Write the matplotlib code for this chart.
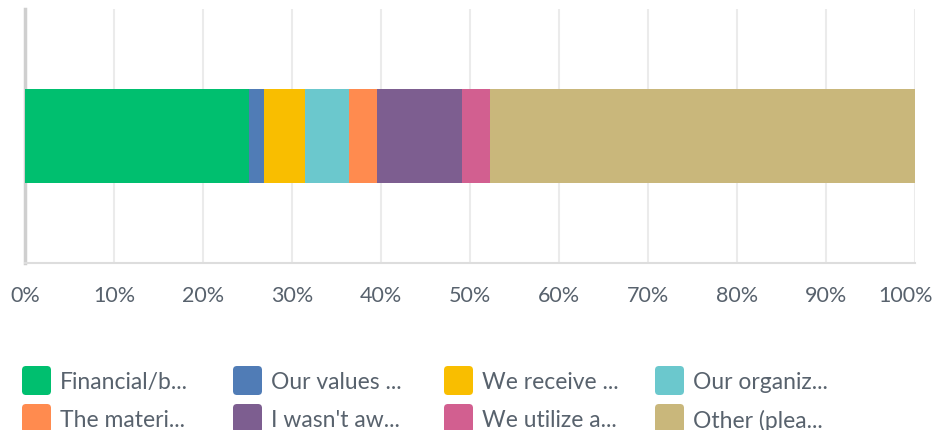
import numpy as np
import matplotlib.pyplot as plt
from matplotlib.patches import FancyBboxPatch
from matplotlib.transforms import ScaledTranslation

# Share of responses (%) for each answer
labels = ['Financial/b...', 'Our values ...', 'We receive ...', 'Our organiz...',
          'The materi...', "I wasn't aw...", 'We utilize a...', 'Other (plea...']
values = [25.2, 1.7, 4.6, 4.9, 3.2, 9.5, 3.1, 47.8]
colors = ['#00bf6f', '#507cb6', '#f9be00', '#6bc8cd',
          '#ff8b4f', '#7d5e90', '#d25f90', '#c9b77b']
ticks = np.arange(0, 101, 10)
tick_labels = [f'{t}%' for t in ticks]

text_color = '#58626d'
plt.rcParams['font.family'] = ['Lato', 'DejaVu Sans']

W, H = 935, 431
fig = plt.figure(figsize=(W / 100, H / 100), dpi=100)

# main bar axes (pixel layout: x 25..915, y 10..264)
ax = fig.add_axes([25 / W, 1 - 264 / H, 890 / W, 254 / H])
left = np.concatenate([[0], np.cumsum(values)[:-1]])
ax.barh([0], values, left=left, color=colors, height=0.74, zorder=3)

ax.set_xlim(0, 100)
ax.set_ylim(-1, 1)
ax.set_xticks(ticks)
ax.set_xticklabels(tick_labels)
ax.set_yticks([])
ax.tick_params(axis='x', length=0, pad=16, labelsize=15.5, labelcolor=text_color)
ax.grid(axis='x', color='#ebebeb', linewidth=1.5, zorder=0)
ax.set_axisbelow(True)
for s in ['top', 'right']:
    ax.spines[s].set_visible(False)
ax.spines['left'].set_color('#cfcfcf')
ax.spines['left'].set_linewidth(2.5)
ax.spines['bottom'].set_color('#dddddd')
ax.spines['bottom'].set_linewidth(1.5)

# pull the last label in so it stays inside the figure
last = ax.get_xticklabels()[-1]
last.set_transform(last.get_transform() + ScaledTranslation(-9 / 100, 0, fig.dpi_scale_trans))

# legend drawn in a pixel-space overlay so the rounded swatches stay square
lax = fig.add_axes([0, 0, 1, 1])
lax.set_xlim(0, W)
lax.set_ylim(H, 0)
lax.axis('off')
col_x = [22, 233, 444, 655]
row_y = [367, 405]
for i, (lab, c) in enumerate(zip(labels, colors)):
    x0 = col_x[i % 4]
    y0 = row_y[i // 4]
    lax.add_patch(FancyBboxPatch((x0 + 2, y0 + 2), 25, 25,
                                 boxstyle='round,pad=2,rounding_size=4',
                                 facecolor=c, edgecolor='none', clip_on=False))
    lax.text(x0 + 38, y0 + 16, lab, fontsize=16.5, color=text_color,
             va='center', ha='left')

fig.savefig('out.png', dpi=100)
